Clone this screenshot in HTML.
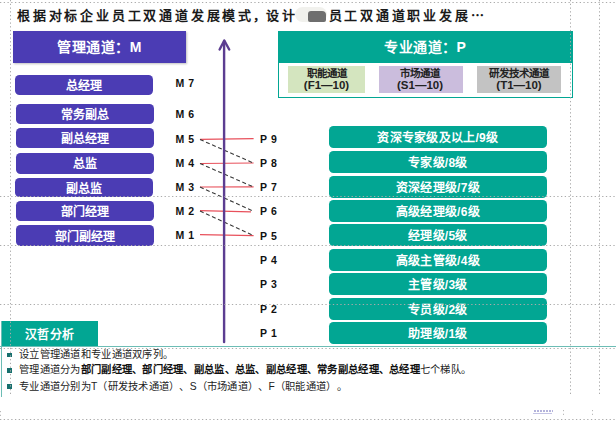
<!DOCTYPE html>
<html lang="zh-CN">
<head>
<meta charset="utf-8">
<style>
html,body{margin:0;padding:0;}
body{width:616px;height:422px;position:relative;overflow:hidden;background:#fff;font-family:"Liberation Sans",sans-serif;}
.a{position:absolute;}
.title{left:17px;top:5.5px;font-family:"Liberation Serif",serif;font-weight:bold;font-size:13px;line-height:20px;color:#1a1a1a;letter-spacing:2.8px;white-space:nowrap;}
.blob1{left:295px;top:7px;width:32px;height:15px;background:#f1f1ed;border-radius:8px;}
.blob2{left:308px;top:10.5px;width:18px;height:11px;background:#6e6e6e;border-radius:3px 4px 2px 2px;}
.mh{left:13px;top:31px;width:173px;height:32px;background:#4b3cb4;color:#fff;font-weight:bold;font-size:14px;letter-spacing:0.5px;line-height:32px;text-align:center;box-shadow:1px 1px 2px rgba(0,0,0,0.25);}
.mb{background:#4b3cb4;border-radius:4.5px;color:#fff;font-weight:bold;font-size:12px;line-height:20px;text-align:center;}
.lab{font-weight:bold;font-size:10.5px;letter-spacing:0.6px;line-height:12px;color:#111;white-space:nowrap;}
.ph{left:277.5px;top:31px;width:295.5px;height:67px;box-sizing:border-box;border:1.5px solid #02a693;}
.phh{left:277.5px;top:31px;width:295.5px;height:32px;background:#02a693;color:#fff;font-weight:bold;font-size:14px;letter-spacing:0.5px;line-height:32px;text-align:center;}
.pc{top:66px;height:27px;color:#222;font-weight:bold;font-size:10.5px;line-height:12px;text-align:center;padding-top:1px;box-sizing:border-box;}
.pb{left:328.7px;width:218.3px;height:21.8px;background:#02a693;border-radius:4.5px;color:#fff;font-weight:bold;font-size:12px;letter-spacing:0.25px;line-height:24px;text-align:center;white-space:nowrap;}
.tab{left:1px;top:321px;width:97px;height:25px;background:#02a693;color:#fff;font-weight:bold;font-size:12px;letter-spacing:0.5px;line-height:29px;text-align:center;}
.bl{text-spacing-trim:space-all;left:19px;font-size:10px;transform:scale(1.028);transform-origin:0 0;line-height:14px;color:#222;white-space:nowrap;}
.bl b{font-weight:bold;color:#111;}
.sq{left:7px;width:5px;height:4.3px;background:#17706e;}
</style>
</head>
<body>
<div class="a title">根据对标企业员工双通道发展模式<span style="margin-left:-1.5px;margin-right:-2.5px">，</span>设计</div>
<div class="a title" style="left:328.5px">员工双通道职业发展<span style="letter-spacing:0">⋯</span></div>
<div class="a blob1"></div>
<div class="a blob2"></div>

<div class="a mh">管理通道：M</div>
<div class="a mb" style="left:14.7px;width:138.1px;top:74.7px;height:20.2px;line-height:23.2px">总经理</div>
<div class="a mb" style="left:16px;width:137.9px;top:103.7px;height:20.8px;line-height:23.8px">常务副总</div>
<div class="a mb" style="left:16px;width:137.9px;top:128.1px;height:20.4px;line-height:23.4px">副总经理</div>
<div class="a mb" style="left:16px;width:137.9px;top:153.2px;height:20.4px;line-height:23.4px">总监</div>
<div class="a mb" style="left:14.6px;width:138.4px;top:178.3px;height:19.0px;line-height:22.0px">副总监</div>
<div class="a mb" style="left:16px;width:138.3px;top:200.7px;height:20.5px;line-height:23.5px">部门经理</div>
<div class="a mb" style="left:16px;width:138.3px;top:224.8px;height:21.1px;line-height:24.1px">部门副经理</div>

<div class="a lab" style="left:175.5px;top:77px">M 7</div>
<div class="a lab" style="left:175.5px;top:108px">M 6</div>
<div class="a lab" style="left:175.5px;top:133px">M 5</div>
<div class="a lab" style="left:175.5px;top:157px">M 4</div>
<div class="a lab" style="left:175.5px;top:180.5px">M 3</div>
<div class="a lab" style="left:175.5px;top:204.5px">M 2</div>
<div class="a lab" style="left:175.5px;top:229px">M 1</div>

<div class="a lab" style="left:260px;top:132.5px">P 9</div>
<div class="a lab" style="left:260px;top:157px">P 8</div>
<div class="a lab" style="left:260px;top:181px">P 7</div>
<div class="a lab" style="left:260px;top:205.3px">P 6</div>
<div class="a lab" style="left:260px;top:229.6px">P 5</div>
<div class="a lab" style="left:260px;top:254px">P 4</div>
<div class="a lab" style="left:260px;top:278.4px">P 3</div>
<div class="a lab" style="left:260px;top:302.7px">P 2</div>
<div class="a lab" style="left:260px;top:327px">P 1</div>

<div class="a ph"></div>
<div class="a phh">专业通道：P</div>
<div class="a pc" style="left:288px;width:77px;background:#d4e5bf">职能通道<br><span style="font-size:11.5px">(F1—10)</span></div>
<div class="a pc" style="left:379px;width:84px;background:#cbbddd;padding-right:2px">市场通道<br><span style="font-size:11.5px">(S1—10)</span></div>
<div class="a pc" style="left:477px;width:84px;background:#c3c3c3">研发技术通道<br><span style="font-size:11.5px">(T1—10)</span></div>

<div class="a pb" style="top:126px">资深专家级及以上/9级</div>
<div class="a pb" style="top:150.8px">专家级/8级</div>
<div class="a pb" style="top:175.9px">资深经理级/7级</div>
<div class="a pb" style="top:199.8px">高级经理级/6级</div>
<div class="a pb" style="top:224px">经理级/5级</div>
<div class="a pb" style="top:249px">高级主管级/4级</div>
<div class="a pb" style="top:273.2px">主管级/3级</div>
<div class="a pb" style="top:298.2px">专员级/2级</div>
<div class="a pb" style="top:322.3px">助理级/1级</div>

<div class="a tab">汉哲分析</div>
<div class="a" style="left:0;top:345.5px;width:616px;height:1.5px;background:#6cbdb5"></div>
<div class="a" style="left:0.5px;top:321px;width:1.5px;height:76px;background:#6cbdb5"></div>

<div class="a sq" style="top:353.2px"></div>
<div class="a sq" style="top:368.3px"></div>
<div class="a sq" style="top:384.4px"></div>
<div class="a bl" style="top:347.6px">设立管理通道和专业通道双序列。</div>
<div class="a bl" style="top:363.2px">管理通道分为<b>部门副经理、部门经理、副总监、总监、副总经理、常务副总经理、总经理</b>七个梯队。</div>
<div class="a bl" style="top:380.1px">专业通道分别为T（研发技术通道）、S（市场通道）、F（职能通道）。</div>

<svg class="a" style="left:0;top:0" width="616" height="422" viewBox="0 0 616 422">
  <!-- red lines -->
  <g stroke="#e8505b" stroke-width="1.2">
    <line x1="200" y1="139.3" x2="253.6" y2="138.6"/>
    <line x1="200" y1="163.5" x2="253.6" y2="163"/>
    <line x1="200" y1="187" x2="253.6" y2="186.8"/>
    <line x1="200" y1="210.7" x2="251" y2="211.9"/>
    <line x1="200" y1="234.7" x2="253.6" y2="235.6"/>
  </g>
  <g stroke="#383838" stroke-width="1.1" stroke-dasharray="4 2.6">
    <line x1="200" y1="139.5" x2="253.6" y2="163.1"/>
    <line x1="200" y1="163.5" x2="253.6" y2="187"/>
    <line x1="200" y1="187" x2="253.6" y2="211.3"/>
    <line x1="200" y1="211" x2="253.6" y2="235.6"/>
  </g>
  <!-- arrow -->
  <g stroke="#5c3d91" stroke-width="2.4" fill="none" stroke-linecap="round" stroke-linejoin="round">
    <line x1="224.1" y1="41" x2="224.1" y2="342"/>
    <polyline points="219.6,49.5 224.3,40.5 229.2,49.5"/>
  </g>
  <!-- dotted guides -->
  <g stroke="#ababab" stroke-width="1" stroke-dasharray="1.3 2.44" fill="none">
    <line x1="0" y1="2.5" x2="616" y2="2.5"/>
    <line x1="0" y1="196.5" x2="616" y2="196.5"/>
    <line x1="0" y1="245.5" x2="616" y2="245.5"/>
    <line x1="0" y1="304.5" x2="616" y2="304.5"/>
    <line x1="0" y1="348.5" x2="616" y2="348.5"/>
    <line x1="0" y1="419.5" x2="616" y2="419.5"/>
    <line x1="10.5" y1="0" x2="10.5" y2="396"/>
    <line x1="570.5" y1="0" x2="570.5" y2="396"/>
    <line x1="599.5" y1="0" x2="599.5" y2="396"/>
  </g>
  <g stroke="#b8b8b8" stroke-width="1" stroke-dasharray="1.2 2.54">
    <line x1="563.5" y1="410" x2="563.5" y2="417"/>
    <line x1="592.5" y1="410" x2="592.5" y2="417"/>
    <line x1="0.5" y1="411" x2="0.5" y2="417"/>
  </g>
  <g stroke="#6a68b8" stroke-width="1" stroke-dasharray="2 1">
    <line x1="534" y1="411" x2="553" y2="411"/>
  </g>
  <line x1="533" y1="413.5" x2="552" y2="413.5" stroke="#c4c4e4" stroke-width="1"/>
</svg>
</body>
</html>
